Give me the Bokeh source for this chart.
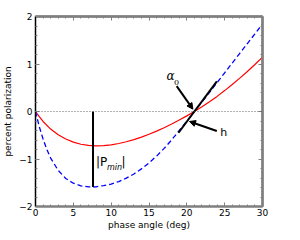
from bokeh.plotting import figure
from bokeh.models import Range1d, FixedTicker, LinearAxis, Span, Label, Arrow, NormalHead
from bokeh.embed import file_html
from bokeh.resources import INLINE

# ---- data ----
red_angle = [0, 0.5, 1, 2, 3, 4, 5, 6, 7, 8, 9, 10, 11, 12, 13, 14, 15, 16, 17, 18, 19, 20,
             21, 22, 23, 24, 25, 26, 27, 28, 29, 30]
red_pol = [0, -0.11, -0.21, -0.37, -0.49, -0.58, -0.645, -0.69, -0.715, -0.724, -0.718, -0.702,
           -0.674, -0.637, -0.592, -0.539, -0.479, -0.413, -0.341, -0.263, -0.18, -0.092,
           0.0, 0.098, 0.204, 0.318, 0.44, 0.568, 0.702, 0.842, 0.99, 1.146]

blue_angle = [0, 0.5, 1, 1.5, 2, 3, 4, 5, 6, 7, 7.6, 8, 9, 10, 11, 12, 13, 14, 15, 16, 17, 18,
              19, 20, 21, 22, 23, 24, 25, 26, 27, 28, 29, 30]
blue_pol = [0, -0.32, -0.58, -0.80, -0.98, -1.24, -1.41, -1.51, -1.565, -1.585, -1.59, -1.585,
            -1.56, -1.528, -1.475, -1.404, -1.315, -1.208, -1.082, -0.939, -0.777, -0.597,
            -0.40, -0.20, 0.0, 0.20, 0.405, 0.61, 0.815, 1.02, 1.225, 1.43, 1.635, 1.84]

alpha0 = 21.0          # inversion angle
slope_h = 0.213        # slope at inversion
pmin_angle = 7.6
pmin_value = -1.59

x_ticks = [0, 5, 10, 15, 20, 25, 30]
y_ticks = [-2, -1, 0, 1, 2]
y_tick_labels = {-2: "\u22122", -1: "\u22121", 0: "0", 1: "1", 2: "2"}
x_minor = list(range(0, 31))
y_minor = [round(-2 + 0.2 * i, 2) for i in range(21)]

FONT = "DejaVu Sans"
GRAY = "#808080"

p = figure(width=284, height=232, output_backend="svg", toolbar_location=None,
           x_range=Range1d(0, 30), y_range=Range1d(-2, 2),
           min_border_left=30, min_border_right=22, min_border_top=16, min_border_bottom=24)
p.background_fill_color = "white"
p.border_fill_color = "white"
p.grid.visible = False
p.outline_line_color = GRAY
p.outline_line_width = 2


def style_axis(ax, ticks, minor):
    ax.ticker = FixedTicker(ticks=ticks, minor_ticks=minor)
    ax.major_tick_in = 4
    ax.major_tick_out = 0
    ax.minor_tick_in = 2
    ax.minor_tick_out = 0
    ax.major_tick_line_color = GRAY
    ax.minor_tick_line_color = GRAY
    ax.major_label_text_font = FONT
    ax.major_label_text_font_size = "9px"
    ax.major_label_text_color = "black"
    ax.major_label_standoff = 3
    ax.axis_label_text_font = FONT
    ax.axis_label_text_font_size = "9px"
    ax.axis_label_text_font_style = "normal"
    ax.axis_label_text_color = "black"
    ax.axis_label_standoff = 3


xa = p.xaxis[0]
ya = p.yaxis[0]
style_axis(xa, x_ticks, x_minor)
style_axis(ya, y_ticks, y_minor)
xa.axis_label = "phase angle (deg)"
xa.major_label_standoff = 2
xa.axis_label_standoff = 1
ya.axis_label = "percent polarization"
ya.major_label_overrides = y_tick_labels
xa.axis_line_color = GRAY
xa.axis_line_width = 2
ya.axis_line_color = "black"
ya.axis_line_width = 1


def tick_only_axis(minor, length):
    ax = LinearAxis(ticker=FixedTicker(ticks=[], minor_ticks=minor))
    ax.minor_tick_in = length
    ax.minor_tick_out = 0
    ax.major_tick_in = 0
    ax.major_tick_out = 0
    ax.minor_tick_line_color = GRAY
    ax.axis_line_color = GRAY
    ax.axis_line_width = 2
    ax.major_label_standoff = 0
    return ax


p.add_layout(tick_only_axis(x_minor, 2), "above")
p.add_layout(tick_only_axis(x_ticks, 4), "above")
p.add_layout(tick_only_axis(y_minor, 2), "right")
p.add_layout(tick_only_axis(y_ticks, 4), "right")

# zero line
p.add_layout(Span(location=0, dimension="width", line_color="#666666", line_width=1,
                  line_dash="1 2"))

# curves
p.line(red_angle, red_pol, line_color="#ff0000", line_width=1.2)
p.line(blue_angle, blue_pol, line_color="#0000ff", line_width=1.3, line_dash="5 3")

# |Pmin| vertical line
p.segment(x0=[pmin_angle], y0=[0], x1=[pmin_angle], y1=[pmin_value],
          line_color="black", line_width=2)

# tangent at inversion angle
t0, t1 = alpha0 - 2.1, alpha0 + 2.97
p.segment(x0=[t0], y0=[slope_h * (t0 - alpha0)], x1=[t1], y1=[slope_h * (t1 - alpha0)],
          line_color="black", line_width=2)

# arrows
p.add_layout(Arrow(end=NormalHead(size=6, fill_color="black", line_color="black"),
                   x_start=alpha0 - 2.34, y_start=0.535, x_end=alpha0 - 0.2, y_end=0.05,
                   line_color="black", line_width=2))
p.add_layout(Arrow(end=NormalHead(size=6, fill_color="black", line_color="black"),
                   x_start=alpha0 + 2.96, y_start=-0.41, x_end=alpha0 - 0.65, y_end=-0.21,
                   line_color="black", line_width=2))

# labels
p.add_layout(Label(x=17.3, y=0.6, text="\u03b1", text_font="DejaVu Serif",
                   text_font_style="italic", text_font_size="12px", text_color="black"))
p.add_layout(Label(x=18.3, y=0.55, text="0", text_font="DejaVu Serif",
                   text_font_size="8px", text_color="black"))
p.add_layout(Label(x=24.4, y=-0.58, text="h", text_font=FONT,
                   text_font_size="11px", text_color="black"))
p.add_layout(Label(x=8.0, y=-1.21, text="|P", text_font=FONT,
                   text_font_size="12px", text_color="black"))
p.add_layout(Label(x=9.45, y=-1.27, text="min", text_font=FONT, text_font_style="italic",
                   text_font_size="8px", text_color="black"))
p.add_layout(Label(x=11.35, y=-1.21, text="|", text_font=FONT,
                   text_font_size="12px", text_color="black"))

open("out.html", "w").write(file_html(p, INLINE))
